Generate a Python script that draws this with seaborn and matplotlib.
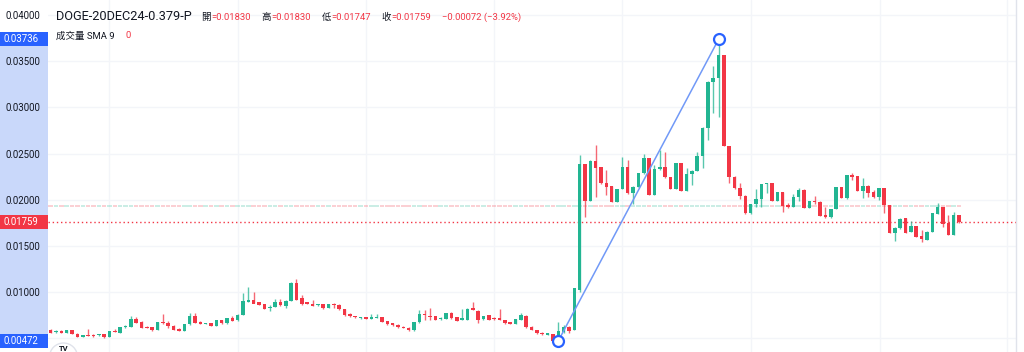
import numpy as np
import pandas as pd
import matplotlib
matplotlib.use("Agg")
import matplotlib.pyplot as plt
import matplotlib.transforms as mtransforms
from matplotlib.patches import Rectangle, Circle
import seaborn as sns

# ---------------- data ----------------
opens = [
    0.00591, 0.00566, 0.00580, 0.00559, 0.00588, 0.00552, 0.00512, 0.00540, 0.00540, 0.00533,
    0.00548, 0.00512, 0.00584, 0.00562, 0.00620, 0.00627, 0.00706, 0.00681, 0.00627, 0.00620,
    0.00588, 0.00678, 0.00670, 0.00638, 0.00605, 0.00584, 0.00652, 0.00746, 0.00681, 0.00656,
    0.00667, 0.00638, 0.00696, 0.00663, 0.00724, 0.00696, 0.00757, 0.00894, 0.00915, 0.00894,
    0.00872, 0.00825, 0.00843, 0.00898, 0.00851, 0.00908, 0.01103, 0.00937, 0.00890, 0.00876,
    0.00858, 0.00872, 0.00829, 0.00872, 0.00865, 0.00818, 0.00761, 0.00743, 0.00717, 0.00732,
    0.00710, 0.00724, 0.00732, 0.00688, 0.00663, 0.00649, 0.00627, 0.00616, 0.00588, 0.00674,
    0.00761, 0.00746, 0.00743, 0.00706, 0.00710, 0.00779, 0.00728, 0.00703, 0.00699, 0.00829,
    0.00800, 0.00706, 0.00753, 0.00724, 0.00717, 0.00699, 0.00678, 0.00656, 0.00699, 0.00746,
    0.00627, 0.00591, 0.00562, 0.00540, 0.00544, 0.00533, 0.00566, 0.00627, 0.00591, 0.01024,
    0.02387, 0.01990, 0.02423, 0.02352, 0.02185, 0.02149, 0.01979, 0.02117, 0.02352, 0.02070,
    0.02142, 0.02287, 0.02449, 0.02052, 0.02330, 0.02358, 0.02243, 0.02117, 0.02395, 0.02095,
    0.02279, 0.02312, 0.02474, 0.02777, 0.03278, 0.03315, 0.03567, 0.02582, 0.02250, 0.02131,
    0.02044, 0.01854, 0.01954, 0.02009, 0.02168, 0.02182, 0.01987, 0.02081, 0.01944, 0.01925,
    0.02030, 0.02109, 0.01914, 0.01987, 0.01979, 0.01832, 0.01810, 0.01900, 0.02135, 0.02023,
    0.02268, 0.02257, 0.02095, 0.02152, 0.02088, 0.02033, 0.02124, 0.01944, 0.01644, 0.01691,
    0.01800, 0.01651, 0.01716, 0.01608, 0.01565, 0.01655, 0.01846, 0.01922, 0.01746, 0.01619,
    0.01830,
]
highs = [
    0.00602, 0.00591, 0.00586, 0.00595, 0.00591, 0.00553, 0.00542, 0.00598, 0.00548, 0.00552,
    0.00552, 0.00580, 0.00598, 0.00624, 0.00645, 0.00743, 0.00728, 0.00685, 0.00631, 0.00624,
    0.00681, 0.00761, 0.00688, 0.00642, 0.00609, 0.00660, 0.00772, 0.00779, 0.00685, 0.00670,
    0.00670, 0.00699, 0.00699, 0.00721, 0.00743, 0.00761, 0.00988, 0.01059, 0.01005, 0.00898,
    0.00876, 0.00858, 0.00930, 0.00930, 0.00912, 0.01107, 0.01139, 0.00973, 0.00894, 0.00915,
    0.00876, 0.00876, 0.00872, 0.00880, 0.00869, 0.00822, 0.00779, 0.00746, 0.00732, 0.00735,
    0.00761, 0.00764, 0.00735, 0.00692, 0.00667, 0.00652, 0.00631, 0.00620, 0.00678, 0.00807,
    0.00807, 0.00825, 0.00746, 0.00728, 0.00779, 0.00782, 0.00732, 0.00818, 0.00825, 0.00898,
    0.00804, 0.00743, 0.00757, 0.00728, 0.00815, 0.00703, 0.00681, 0.00710, 0.00772, 0.00750,
    0.00631, 0.00595, 0.00566, 0.00559, 0.00548, 0.00681, 0.00645, 0.00631, 0.01048, 0.02490,
    0.02391, 0.02427, 0.02593, 0.02355, 0.02322, 0.02153, 0.02120, 0.02460, 0.02431, 0.02146,
    0.02290, 0.02496, 0.02452, 0.02377, 0.02539, 0.02520, 0.02247, 0.02398, 0.02398, 0.02341,
    0.02319, 0.02520, 0.02785, 0.03282, 0.03448, 0.03736, 0.03571, 0.02586, 0.02254, 0.02178,
    0.02049, 0.01958, 0.02113, 0.02171, 0.02185, 0.02185, 0.02084, 0.02084, 0.01969, 0.02059,
    0.02131, 0.02113, 0.01990, 0.02041, 0.01983, 0.01925, 0.01904, 0.02138, 0.02138, 0.02268,
    0.02293, 0.02261, 0.02233, 0.02157, 0.02106, 0.02128, 0.02128, 0.01947, 0.01702, 0.01803,
    0.01803, 0.01770, 0.01720, 0.01673, 0.01659, 0.01857, 0.01969, 0.01925, 0.01835, 0.01865,
    0.01830,
]
lows = [
    0.00555, 0.00559, 0.00553, 0.00555, 0.00548, 0.00512, 0.00510, 0.00526, 0.00519, 0.00530,
    0.00508, 0.00510, 0.00566, 0.00559, 0.00613, 0.00624, 0.00663, 0.00613, 0.00613, 0.00584,
    0.00586, 0.00660, 0.00613, 0.00591, 0.00580, 0.00580, 0.00649, 0.00667, 0.00652, 0.00652,
    0.00634, 0.00634, 0.00660, 0.00660, 0.00688, 0.00692, 0.00753, 0.00891, 0.00883, 0.00858,
    0.00815, 0.00800, 0.00840, 0.00854, 0.00832, 0.00905, 0.00912, 0.00865, 0.00869, 0.00851,
    0.00854, 0.00822, 0.00825, 0.00832, 0.00811, 0.00746, 0.00735, 0.00724, 0.00713, 0.00706,
    0.00706, 0.00721, 0.00678, 0.00649, 0.00638, 0.00616, 0.00613, 0.00584, 0.00584, 0.00670,
    0.00699, 0.00699, 0.00699, 0.00703, 0.00706, 0.00713, 0.00688, 0.00699, 0.00696, 0.00804,
    0.00663, 0.00703, 0.00696, 0.00703, 0.00696, 0.00660, 0.00652, 0.00652, 0.00696, 0.00616,
    0.00588, 0.00552, 0.00540, 0.00537, 0.00472, 0.00526, 0.00562, 0.00555, 0.00588, 0.01005,
    0.01810, 0.01987, 0.02033, 0.02174, 0.02052, 0.01976, 0.01976, 0.02113, 0.02066, 0.01954,
    0.02138, 0.02283, 0.02049, 0.02049, 0.02326, 0.02240, 0.02114, 0.02114, 0.02092, 0.02092,
    0.02160, 0.02308, 0.02341, 0.02647, 0.02936, 0.02899, 0.02579, 0.02178, 0.02120, 0.02005,
    0.01850, 0.01850, 0.01925, 0.01925, 0.02077, 0.01983, 0.01983, 0.01871, 0.01914, 0.01922,
    0.01990, 0.01911, 0.01911, 0.01954, 0.01821, 0.01806, 0.01806, 0.01897, 0.02019, 0.02005,
    0.02214, 0.02092, 0.02016, 0.02033, 0.02023, 0.01998, 0.01854, 0.01641, 0.01557, 0.01687,
    0.01641, 0.01648, 0.01594, 0.01540, 0.01561, 0.01651, 0.01843, 0.01702, 0.01616, 0.01616,
    0.01747,
]
closes = [
    0.00562, 0.00584, 0.00559, 0.00588, 0.00552, 0.00516, 0.00540, 0.00530, 0.00526, 0.00548,
    0.00512, 0.00577, 0.00570, 0.00620, 0.00634, 0.00710, 0.00670, 0.00616, 0.00616, 0.00588,
    0.00678, 0.00663, 0.00638, 0.00595, 0.00584, 0.00656, 0.00746, 0.00670, 0.00656, 0.00667,
    0.00638, 0.00696, 0.00663, 0.00717, 0.00692, 0.00757, 0.00901, 0.00915, 0.00876, 0.00861,
    0.00822, 0.00843, 0.00898, 0.00858, 0.00908, 0.01103, 0.00915, 0.00876, 0.00872, 0.00854,
    0.00872, 0.00825, 0.00869, 0.00865, 0.00815, 0.00750, 0.00739, 0.00728, 0.00728, 0.00710,
    0.00732, 0.00735, 0.00681, 0.00652, 0.00642, 0.00620, 0.00616, 0.00588, 0.00674, 0.00764,
    0.00753, 0.00735, 0.00703, 0.00724, 0.00775, 0.00717, 0.00692, 0.00724, 0.00818, 0.00807,
    0.00699, 0.00739, 0.00699, 0.00706, 0.00699, 0.00663, 0.00656, 0.00706, 0.00753, 0.00620,
    0.00591, 0.00555, 0.00544, 0.00555, 0.00475, 0.00584, 0.00627, 0.00584, 0.01045, 0.02387,
    0.01990, 0.02423, 0.02347, 0.02178, 0.02142, 0.01979, 0.02117, 0.02352, 0.02070, 0.02142,
    0.02287, 0.02449, 0.02052, 0.02330, 0.02358, 0.02243, 0.02117, 0.02395, 0.02095, 0.02279,
    0.02315, 0.02474, 0.02780, 0.03278, 0.03315, 0.03567, 0.02582, 0.02250, 0.02124, 0.02044,
    0.01854, 0.01954, 0.02009, 0.02168, 0.02182, 0.01987, 0.02081, 0.01936, 0.01925, 0.02030,
    0.02109, 0.01914, 0.01987, 0.01973, 0.01825, 0.01810, 0.01900, 0.02135, 0.02023, 0.02265,
    0.02250, 0.02095, 0.02152, 0.02077, 0.02033, 0.02124, 0.01944, 0.01644, 0.01698, 0.01797,
    0.01644, 0.01716, 0.01601, 0.01572, 0.01655, 0.01854, 0.01922, 0.01735, 0.01619, 0.01832,
    0.01759,
]

price_ticks = [0.005, 0.010, 0.015, 0.020, 0.025, 0.030, 0.035, 0.040]
anchor_bars = [95, 125]
anchor_prices = [0.00472, 0.03736]
last_price = 0.01759

title = "DOGE-20DEC24-0.379-P"
ohlc_labels = ["開", "高", "低", "收"]
ohlc_values = ["0.01830", "0.01830", "0.01747", "0.01759"]
change_text = "\u22120.00072 (\u22123.92%)"
volume_label = "成交量 SMA 9"
volume_value = "0"

# ---------------- style ----------------
GREEN = "#22B592"
RED = "#F23645"
BLUE = "#2962FF"
TEXT = "#131722"
GRID = "#F3F5F9"

sns.set_theme(style="white")
plt.rcParams["font.family"] = ["Roboto", "Noto Sans CJK TC", "DejaVu Sans"]

df = pd.DataFrame({"open": opens, "high": highs, "low": lows, "close": closes})
df["bar"] = np.arange(len(df))
df["up"] = df["close"] >= df["open"]
colors = np.where(df["up"], GREEN, RED)

W, H = 1024, 352
LEFT, RIGHT = 48, 1016
fig = plt.figure(figsize=(W / 100, H / 100), dpi=100)
fig.patch.set_facecolor("white")
ax = fig.add_axes([LEFT / W, 0, (RIGHT - LEFT) / W, 1])
ax.set_facecolor("white")

ax.set_xlim(-0.505, 180.67)
ax.set_ylim(0.003526, 0.041623)

# grid
ax.set_yticks(price_ticks)
ax.set_yticklabels(["" if v < 0.0075 else f"{v:.5f}" for v in price_ticks])
ax.set_xticks([10.9, 35.06, 59.0, 82.97, 106.93, 131.07, 155.2, 179.0])
ax.set_xticklabels([])
ax.grid(True, color=GRID, lw=1.0)
ax.tick_params(axis="y", length=0, pad=5.5, labelsize=6.9, labelcolor=TEXT)
ax.tick_params(axis="x", length=0)
for s in ["top", "bottom", "left"]:
    ax.spines[s].set_visible(False)
ax.spines["right"].set_color("#E0E3EB")
ax.spines["right"].set_linewidth(1.0)

# zero-volume bars at the volume base
VOL_Y = 0.01936
ax.hlines([VOL_Y] * len(df), df["bar"] - 0.42, df["bar"] + 0.42, colors=colors,
          lw=1.2, alpha=0.28, zorder=2)

# last price line
ax.axhline(last_price, color=RED, ls=(0, (1, 2)), lw=1.0, zorder=2)

# candles
ax.vlines(df["bar"], df["low"], df["high"], colors=colors, lw=1.0, alpha=0.75, zorder=3)
body_bottom = np.minimum(df["open"], df["close"])
body_h = np.maximum((df["close"] - df["open"]).abs(), 0.00011)
ax.bar(df["bar"], body_h, bottom=body_bottom, width=0.66, color=colors, lw=0, zorder=4)

# trend line drawing
sns.lineplot(x=anchor_bars, y=anchor_prices, ax=ax, color="#7199F7", lw=1.1, zorder=5,
             legend=False)
sns.scatterplot(x=anchor_bars, y=anchor_prices, ax=ax, s=62, color="white",
                edgecolor=BLUE, linewidth=1.6, zorder=6, legend=False, clip_on=False)
ax.set_xlabel("")
ax.set_ylabel("")

# price-axis highlight and labels
trans = mtransforms.blended_transform_factory(ax.transAxes, ax.transData)
axw = RIGHT - LEFT
x0 = -LEFT / axw
ax.add_patch(Rectangle((x0, anchor_prices[0]), LEFT / axw, anchor_prices[1] - anchor_prices[0],
                       transform=trans, clip_on=False, facecolor="#C9D8FA", lw=0, zorder=0.2))
box_h = 14 * (0.041623 - 0.003526) / H
for val, col in [(anchor_prices[1], BLUE), (anchor_prices[0], BLUE), (last_price, RED)]:
    ax.add_patch(Rectangle((x0, val - box_h / 2), LEFT / axw, box_h, transform=trans,
                           clip_on=False, facecolor=col, lw=0, zorder=7))
    ax.text((21 - LEFT) / axw, val, f"{val:.5f}", transform=trans, ha="center", va="center",
            color="white", fontsize=6.9, zorder=8, clip_on=False)

# header legend
def px(x, y):
    return x / W, 1 - y / H

fig.text(*px(56, 17), title, fontsize=9.2, color=TEXT, va="center", ha="left")
renderer = fig.canvas.get_renderer()
for lab, val, x in zip(ohlc_labels, ohlc_values, [201.5, 261.5, 321.5, 381.5]):
    t = fig.text(*px(x, 17.5), lab, fontsize=6.8, color=TEXT, va="center", ha="left")
    bb = t.get_window_extent(renderer)
    fig.text(bb.x1 / W + 0.3 / W, 1 - 17.5 / H, "=" + val, fontsize=6.8, color=RED,
             va="center", ha="left")
fig.text(*px(441.5, 17.5), change_text, fontsize=6.8, color=RED, va="center", ha="left")
fig.text(*px(56, 36), volume_label, fontsize=6.8, color=TEXT, va="center", ha="left")
fig.text(*px(125.5, 36), volume_value, fontsize=6.8, color=RED, va="center", ha="left")

# TradingView logo (partly visible at bottom-left)
ident = mtransforms.IdentityTransform()
fig.add_artist(Circle((63.5, -5), 14, transform=ident, facecolor="white",
                      edgecolor="#E0E3EB", lw=1.0, zorder=9))
fig.text(63.5, 3.2, "TV", transform=ident, fontsize=5.5, fontweight="bold", color=TEXT,
         ha="center", va="center", zorder=10)

fig.savefig("out.png", dpi=100, facecolor="white")
